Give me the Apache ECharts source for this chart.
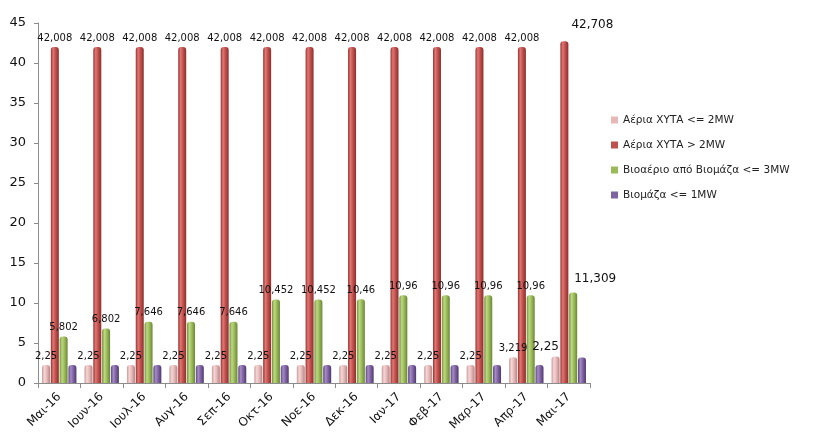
<!DOCTYPE html>
<html>
<head>
<meta charset="utf-8">
<script src="https://cdn.jsdelivr.net/npm/echarts@6/dist/echarts.min.js"></script>
<style>
  html, body { margin: 0; padding: 0; background: #fff; }
  #chart { width: 815px; height: 445px; }
</style>
</head>
<body>
<div id="chart"></div>
<script>
const months = ['Μαι-16', 'Ιουν-16', 'Ιουλ-16', 'Αυγ-16', 'Σεπ-16', 'Οκτ-16', 'Νοε-16',
  'Δεκ-16', 'Ιαν-17', 'Φεβ-17', 'Μαρ-17', 'Απρ-17', 'Μαι-17']

const seriesNames = ['Αέρια ΧΥΤΑ <= 2MW', 'Αέρια ΧΥΤΑ > 2MW', 'Βιοαέριο από Βιομάζα <= 3MW', 'Βιομάζα <= 1MW']

const landfillSmall = [2.25, 2.25, 2.25, 2.25, 2.25, 2.25, 2.25, 2.25, 2.25, 2.25, 2.25, 3.219, 3.3]
const landfillSmallLabels = ['2,25', '2,25', '2,25', '2,25', '2,25', '2,25', '2,25', '2,25', '2,25', '2,25', '2,25', '3,219', '2,25']
const landfillLarge = [42.008, 42.008, 42.008, 42.008, 42.008, 42.008, 42.008, 42.008, 42.008, 42.008, 42.008, 42.008, 42.708]
const biogas = [5.802, 6.802, 7.646, 7.646, 7.646, 10.452, 10.452, 10.46, 10.96, 10.96, 10.96, 10.96, 11.309]
const biomass = [2.25, 2.25, 2.25, 2.25, 2.25, 2.25, 2.25, 2.25, 2.25, 2.25, 2.25, 2.25, 3.2]

const yTicks = [0, 5, 10, 15, 20, 25, 30, 35, 40, 45]

const palette = [
  ['#c99a99', '#f4d6d5', '#e6b9b8', '#b48584'],
  ['#98322f', '#e07774', '#c0504d', '#8c2f2c'],
  ['#74913a', '#bcd884', '#9bbb59', '#6a8736'],
  ['#5b4480', '#a68cc6', '#8064a2', '#4f3a72']
]
const legendColors = ['#e6b9b8', '#c0504d', '#9bbb59', '#8064a2']

const fmt = (v) => String(v).replace('.', ',')

const cylinder = (c) => new echarts.graphic.LinearGradient(0, 0, 1, 0, [
  { offset: 0, color: c[0] },
  { offset: 0.3, color: c[1] },
  { offset: 0.6, color: c[2] },
  { offset: 1, color: c[3] }
])

const baseLabel = {
  show: true,
  position: 'top',
  distance: 4,
  fontFamily: 'DejaVu Sans',
  fontSize: 10,
  color: '#111'
}

const lastBig = { fontSize: 12, offset: [22, -4] }

// the last month's labels are enlarged and nudged in the original
const buildData = (values, idx) => values.map((v, i) => {
  if (idx === 1 && i === values.length - 1) return { value: v, label: { ...lastBig, offset: [28, -6] } }
  if (idx === 2 && i === values.length - 1) return { value: v, label: { ...lastBig } }
  if (idx === 0 && i === values.length - 1) return { value: v, label: { fontSize: 12, offset: [-10, 0] } }
  return v
})

const allValues = [landfillSmall, landfillLarge, biogas, biomass]

const chart = echarts.init(document.getElementById('chart'))

chart.setOption({
  animation: false,
  textStyle: { fontFamily: 'DejaVu Sans' },
  legend: {
    orient: 'vertical',
    left: 606,
    top: 108,
    itemGap: 11,
    itemWidth: 7,
    itemHeight: 7,
    icon: 'rect',
    textStyle: { fontSize: 10.5, lineHeight: 14, color: '#222', fontFamily: 'DejaVu Sans' },
    data: seriesNames.map((n, i) => ({ name: n, itemStyle: { color: legendColors[i] } }))
  },
  grid: { left: 38, right: 225, top: 23, bottom: 62 },
  xAxis: {
    type: 'category',
    data: months,
    axisLine: { lineStyle: { color: '#8c8c8c', width: 1 } },
    axisTick: { show: true, alignWithLabel: false, length: 5, lineStyle: { color: '#8c8c8c' } },
    axisLabel: { rotate: 45, fontSize: 12, color: '#111', margin: 12, interval: 0 }
  },
  yAxis: {
    type: 'value',
    min: yTicks[0],
    max: yTicks[yTicks.length - 1],
    interval: 5,
    axisLine: { show: true, lineStyle: { color: '#8c8c8c' } },
    axisTick: { show: true, length: 4, lineStyle: { color: '#8c8c8c' } },
    axisLabel: { fontSize: 13, color: '#111', margin: 12 },
    splitLine: { show: false }
  },
  series: allValues.map((values, idx) => ({
    name: seriesNames[idx],
    type: 'bar',
    barWidth: 8,
    barGap: '10%',
    data: buildData(values, idx),
    itemStyle: { color: cylinder(palette[idx]), borderRadius: [3, 3, 0, 0] },
    label: idx === 3 ? { show: false } : {
      ...baseLabel,
      formatter: idx === 0 ? (p) => landfillSmallLabels[p.dataIndex] : (p) => fmt(p.value)
    }
  }))
})
</script>
</body>
</html>
